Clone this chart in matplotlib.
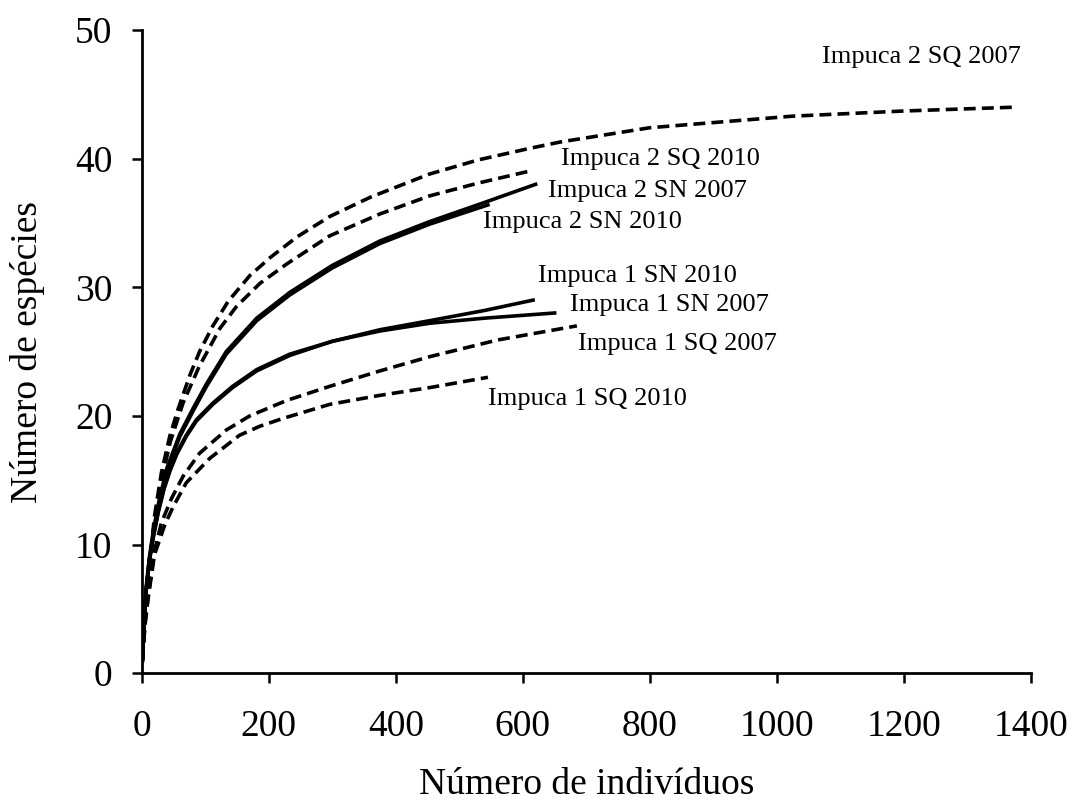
import matplotlib
matplotlib.use("Agg")
import matplotlib.pyplot as plt

plt.rcParams["font.family"] = ["Liberation Serif", "DejaVu Serif"]

# curvas de rarefação
i2_sq07_x = [1, 5, 10, 20, 31, 44, 57, 76, 91, 112, 136, 170, 202, 244, 296, 360, 453, 530, 611, 660, 800, 1025, 1200, 1376]
i2_sq07_y = [1, 4.2, 7.2, 12.2, 15.6, 18.4, 20.5, 23.2, 25.0, 27.0, 28.9, 30.9, 32.3, 33.9, 35.5, 37.0, 38.8, 39.9, 40.8, 41.3, 42.4, 43.3, 43.7, 44.0]

i2_sq10_x = [1, 5, 10, 18, 30, 45, 65, 90, 123, 149, 186, 228, 296, 375, 453, 530, 608]
i2_sq10_y = [1, 4.0, 6.9, 11.0, 14.8, 18.0, 21.0, 23.8, 26.8, 28.5, 30.3, 31.8, 34.0, 35.7, 37.1, 38.1, 39.0]

i2_sn07_x = [1, 4, 7, 12, 18, 28, 40, 60, 81, 102, 133, 181, 233, 300, 375, 453, 540, 620]
i2_sn07_y = [1, 4.3, 6.7, 9.0, 11.0, 13.6, 16.0, 18.6, 20.6, 22.5, 25.0, 27.6, 29.6, 31.7, 33.6, 35.1, 36.6, 38.0]

i2_sn10_x = [1, 4, 7, 12, 18, 28, 40, 60, 81, 102, 133, 181, 233, 300, 375, 453, 545]
i2_sn10_y = [1, 4.2, 6.5, 8.8, 10.8, 13.4, 15.8, 18.4, 20.4, 22.3, 24.8, 27.4, 29.4, 31.5, 33.4, 34.9, 36.4]

i1_sn07_x = [1, 4, 7, 12, 18, 26, 35, 45, 55, 70, 86, 112, 143, 181, 233, 300, 375, 453, 540, 650]
i1_sn07_y = [1, 4.2, 6.5, 8.8, 10.6, 12.6, 14.4, 15.9, 17.1, 18.5, 19.7, 21.0, 22.3, 23.6, 24.8, 25.8, 26.6, 27.2, 27.6, 28.0]

i1_sn10_x = [1, 4, 7, 12, 18, 26, 35, 45, 55, 70, 86, 112, 143, 181, 233, 300, 375, 453, 540, 616]
i1_sn10_y = [1, 4.1, 6.4, 8.7, 10.5, 12.5, 14.3, 15.8, 17.0, 18.4, 19.6, 20.9, 22.2, 23.5, 24.7, 25.8, 26.7, 27.4, 28.2, 29.0]

i1_sq07_x = [1, 5, 10, 20, 31, 47, 65, 91, 133, 170, 228, 296, 375, 453, 560, 685]
i1_sq07_y = [1, 3.8, 6.0, 9.5, 11.7, 13.6, 15.3, 17.1, 18.9, 20.0, 21.2, 22.3, 23.5, 24.6, 25.9, 27.0]

i1_sq10_x = [1, 5, 10, 20, 36, 49, 70, 107, 154, 186, 222, 296, 375, 453, 545]
i1_sq10_y = [1, 3.7, 5.8, 9.2, 11.5, 12.9, 14.8, 16.7, 18.5, 19.2, 19.8, 20.9, 21.6, 22.2, 23.0]

rotulos = ["Impuca 2 SQ 2007", "Impuca 2 SQ 2010", "Impuca 2 SN 2007", "Impuca 2 SN 2010",
           "Impuca 1 SN 2010", "Impuca 1 SN 2007", "Impuca 1 SQ 2007", "Impuca 1 SQ 2010"]
rotulo_x = [1071, 660, 639, 537, 624, 674, 687, 545]
rotulo_y = [47.9, 40.0, 37.5, 35.1, 30.9, 28.6, 25.6, 21.3]

fig = plt.figure(figsize=(10.73, 8.09), dpi=100)
ax = fig.add_axes([0.1321, 0.1678, 0.8288, 0.7952])

tracejado = dict(color="black", lw=2.6, linestyle=(0, (3.3, 1.7)))
cheio = dict(color="black", lw=2.6)

ax.plot(i2_sq07_x, i2_sq07_y, **tracejado)
ax.plot(i2_sq10_x, i2_sq10_y, **tracejado)
ax.plot(i2_sn07_x, i2_sn07_y, **cheio)
ax.plot(i2_sn10_x, i2_sn10_y, **cheio)
ax.plot(i1_sn07_x, i1_sn07_y, **cheio)
ax.plot(i1_sn10_x, i1_sn10_y, **cheio)
ax.plot(i1_sq07_x, i1_sq07_y, **tracejado)
ax.plot(i1_sq10_x, i1_sq10_y, **tracejado)

for txt, tx, ty in zip(rotulos, rotulo_x, rotulo_y):
    ax.text(tx, ty, txt, fontsize=19, ha="left", va="center")

ax.set_xlim(0, 1400)
ax.set_ylim(0, 50)
ax.set_xticks(range(0, 1401, 200))
ax.set_yticks(range(0, 51, 10))
ax.spines["top"].set_visible(False)
ax.spines["right"].set_visible(False)
for s in ["left", "bottom"]:
    ax.spines[s].set_linewidth(2)
ax.tick_params(direction="out", length=7, width=1.8, labelsize=27)
ax.tick_params(axis="x", pad=19)
ax.tick_params(axis="y", pad=14)

ax.set_xlabel("Número de indivíduos", fontsize=27, va="center")
ax.set_ylabel("Número de espécies", fontsize=27, va="center")
ax.xaxis.set_label_coords(0.5, -0.1736)
ax.yaxis.set_label_coords(-0.128, 0.5)

fig.savefig("out.png", dpi=100)
